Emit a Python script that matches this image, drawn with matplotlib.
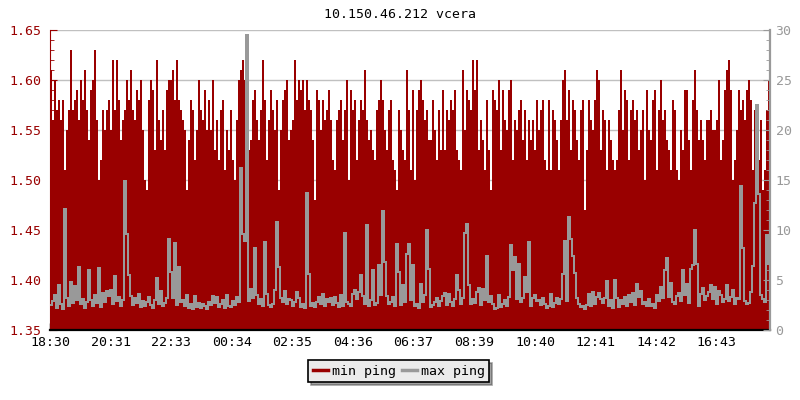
import numpy as np
import matplotlib
matplotlib.use('Agg')
import matplotlib.pyplot as plt
from matplotlib.ticker import MultipleLocator, FormatStrFormatter

# readings, one every 4 minutes from 18:30 (360 samples)
min_ping = [
    1.61, 1.56, 1.60, 1.57, 1.58, 1.56, 1.58, 1.51, 1.55, 1.57, 1.63, 1.57, 1.58, 1.59, 1.56, 1.60, 1.58, 1.61, 1.57, 1.54,
    1.59, 1.60, 1.63, 1.56, 1.50, 1.52, 1.57, 1.55, 1.57, 1.58, 1.55, 1.62, 1.57, 1.62, 1.58, 1.54, 1.56, 1.57, 1.60, 1.58,
    1.61, 1.57, 1.56, 1.59, 1.58, 1.60, 1.55, 1.50, 1.49, 1.58, 1.60, 1.59, 1.53, 1.62, 1.56, 1.54, 1.57, 1.53, 1.59, 1.60,
    1.60, 1.61, 1.58, 1.62, 1.58, 1.57, 1.56, 1.55, 1.49, 1.54, 1.58, 1.57, 1.52, 1.55, 1.60, 1.57, 1.56, 1.59, 1.55, 1.58,
    1.55, 1.60, 1.53, 1.56, 1.52, 1.57, 1.58, 1.51, 1.55, 1.53, 1.57, 1.52, 1.50, 1.56, 1.60, 1.61, 1.62, 1.60, 1.56, 1.53,
    1.54, 1.58, 1.59, 1.56, 1.54, 1.57, 1.62, 1.58, 1.52, 1.56, 1.59, 1.57, 1.55, 1.58, 1.49, 1.55, 1.58, 1.59, 1.60, 1.54,
    1.55, 1.56, 1.62, 1.58, 1.60, 1.59, 1.60, 1.57, 1.60, 1.58, 1.57, 1.54, 1.48, 1.59, 1.58, 1.55, 1.58, 1.56, 1.57, 1.59,
    1.56, 1.52, 1.51, 1.56, 1.57, 1.58, 1.54, 1.57, 1.60, 1.50, 1.59, 1.57, 1.58, 1.52, 1.56, 1.58, 1.57, 1.61, 1.56, 1.54,
    1.55, 1.53, 1.52, 1.57, 1.58, 1.60, 1.58, 1.55, 1.53, 1.57, 1.58, 1.52, 1.51, 1.49, 1.57, 1.55, 1.53, 1.52, 1.61, 1.57,
    1.51, 1.59, 1.50, 1.57, 1.59, 1.60, 1.58, 1.56, 1.57, 1.54, 1.54, 1.58, 1.55, 1.52, 1.57, 1.53, 1.59, 1.53, 1.57, 1.56,
    1.58, 1.57, 1.59, 1.53, 1.52, 1.51, 1.61, 1.55, 1.59, 1.58, 1.57, 1.62, 1.59, 1.62, 1.53, 1.56, 1.54, 1.51, 1.58, 1.53,
    1.49, 1.59, 1.58, 1.57, 1.60, 1.53, 1.59, 1.56, 1.55, 1.59, 1.60, 1.52, 1.56, 1.55, 1.57, 1.58, 1.54, 1.57, 1.52, 1.56,
    1.54, 1.56, 1.53, 1.58, 1.55, 1.57, 1.58, 1.52, 1.51, 1.58, 1.51, 1.57, 1.56, 1.54, 1.51, 1.56, 1.60, 1.61, 1.56, 1.59,
    1.53, 1.58, 1.57, 1.54, 1.52, 1.57, 1.58, 1.47, 1.53, 1.58, 1.56, 1.55, 1.58, 1.61, 1.60, 1.53, 1.57, 1.56, 1.51, 1.56,
    1.54, 1.52, 1.51, 1.52, 1.57, 1.61, 1.55, 1.59, 1.58, 1.52, 1.57, 1.58, 1.56, 1.57, 1.53, 1.55, 1.57, 1.50, 1.59, 1.55,
    1.54, 1.58, 1.59, 1.51, 1.57, 1.60, 1.56, 1.57, 1.54, 1.53, 1.51, 1.58, 1.57, 1.51, 1.50, 1.55, 1.53, 1.59, 1.59, 1.54,
    1.51, 1.58, 1.61, 1.57, 1.54, 1.56, 1.54, 1.52, 1.56, 1.56, 1.57, 1.55, 1.55, 1.56, 1.60, 1.52, 1.54, 1.59, 1.61, 1.62,
    1.59, 1.50, 1.52, 1.55, 1.59, 1.57, 1.58, 1.56, 1.59, 1.60, 1.58, 1.51, 1.57, 1.55, 1.52, 1.56, 1.49, 1.51, 1.57, 1.60,
]

max_ping = [
    2.5, 2.9, 3.5, 2.2, 4.5, 2.6, 2.1, 12.1, 3.2, 2.4, 4.8, 2.7, 4.4, 3.0, 6.3, 2.6, 3.1, 2.2, 2.8, 6.0,
    3.0, 2.4, 3.5, 2.7, 6.2, 2.3, 3.7, 2.8, 3.9, 3.4, 4.0, 2.6, 5.4, 2.9, 3.3, 2.4, 3.0, 14.9, 9.6, 5.5,
    3.4, 2.5, 3.2, 2.7, 3.6, 2.3, 2.9, 2.4, 2.8, 3.3, 2.5, 2.2, 3.0, 5.2, 2.6, 3.9, 2.4, 2.7, 3.2, 9.1,
    5.8, 3.2, 8.7, 2.5, 6.3, 2.8, 3.0, 2.4, 3.5, 2.2, 2.6, 2.1, 3.4, 2.3, 2.7, 2.2, 2.6, 2.4, 2.1, 2.8,
    2.5, 3.4, 2.7, 3.3, 2.3, 2.6, 3.0, 2.2, 3.5, 2.4, 2.3, 2.9, 2.5, 3.3, 2.8, 16.2, 9.6, 8.9, 29.5, 2.9,
    4.1, 3.2, 8.2, 3.5, 2.6, 3.1, 2.4, 8.8, 3.6, 2.5, 2.3, 2.6, 4.0, 10.8, 6.3, 3.2, 2.8, 3.9, 2.6, 3.1,
    3.0, 2.4, 2.8, 3.8, 3.2, 2.3, 2.6, 2.2, 13.7, 5.6, 2.4, 2.7, 2.3, 2.8, 3.3, 2.6, 3.6, 2.4, 3.1, 2.8,
    3.2, 2.5, 3.3, 2.7, 2.3, 3.5, 2.4, 9.7, 2.8, 2.6, 2.4, 3.6, 4.0, 3.1, 3.8, 5.5, 3.4, 2.6, 10.5, 2.4,
    3.0, 6.0, 2.5, 2.7, 6.5, 3.5, 11.9, 6.8, 3.4, 2.6, 2.8, 3.3, 2.4, 8.6, 5.8, 2.5, 4.5, 2.8, 7.6, 8.6,
    3.0, 6.5, 2.4, 2.6, 2.2, 4.6, 2.8, 3.5, 10.0, 6.1, 2.3, 2.5, 2.8, 3.2, 2.4, 2.9, 3.4, 3.7, 2.5, 3.6,
    2.8, 2.4, 3.1, 5.5, 4.0, 2.6, 3.2, 9.7, 10.6, 4.5, 2.6, 3.1, 2.7, 3.8, 4.2, 2.5, 4.1, 3.0, 7.4, 2.8,
    3.4, 2.6, 2.1, 2.2, 3.5, 2.3, 2.6, 3.0, 2.4, 3.3, 8.5, 6.0, 7.3, 3.1, 6.6, 2.8, 3.2, 5.3, 3.8, 8.8,
    2.4, 3.2, 3.5, 2.9, 3.0, 2.5, 3.2, 2.6, 2.2, 2.4, 3.6, 2.3, 2.7, 3.2, 2.6, 3.1, 5.6, 8.9, 2.9, 11.3,
    9.1, 7.4, 5.7, 3.2, 2.6, 2.3, 2.4, 2.1, 2.5, 3.6, 2.4, 3.8, 2.6, 3.3, 3.7, 3.1, 2.7, 3.2, 4.9, 2.4,
    3.0, 2.2, 5.0, 3.2, 2.3, 3.0, 2.6, 3.3, 2.4, 3.5, 2.8, 3.7, 2.5, 4.6, 3.3, 3.9, 2.6, 2.8, 2.4, 3.1,
    2.4, 2.6, 2.2, 3.5, 2.9, 4.3, 3.2, 6.0, 7.2, 3.3, 4.7, 2.8, 2.6, 3.4, 3.7, 2.9, 6.0, 3.5, 4.6, 2.7,
    6.1, 6.5, 10.0, 6.6, 2.4, 3.6, 4.2, 3.0, 3.4, 3.8, 4.5, 3.1, 4.3, 2.6, 3.9, 3.5, 2.8, 3.1, 4.5, 2.9,
    3.3, 4.0, 2.6, 3.2, 3.1, 14.4, 8.2, 2.9, 2.6, 2.7, 3.8, 6.4, 12.7, 22.5, 13.6, 3.5, 3.1, 2.8, 9.5, 6.6,
]

tick_minutes = [0, 121, 243, 364, 485, 606, 727, 849, 970, 1091, 1212, 1333]
tick_labels = ['18:30', '20:31', '22:33', '00:34', '02:35', '04:36',
               '06:37', '08:39', '10:40', '12:41', '14:42', '16:43']

red = '#990000'
gray = '#999999'
plt.rcParams['font.family'] = 'DejaVu Sans Mono'

edges = np.linspace(0, 1440, len(min_ping) + 1)

fig = plt.figure(figsize=(8, 4), dpi=100)
ax = fig.add_axes([50 / 800, 70 / 400, 720 / 800, 300 / 400])
ax.set_axisbelow(True)
ax.stairs(min_ping, edges, fill=True, baseline=1.35, color=red, label='min ping',
          zorder=2, antialiased=False)
ax.set_xlim(0, 1440)
ax.set_ylim(1.35, 1.65)
ax.yaxis.set_major_locator(MultipleLocator(0.05))
ax.yaxis.set_minor_locator(MultipleLocator(0.01))
ax.yaxis.set_major_formatter(FormatStrFormatter('%.2f'))
ax.grid(axis='y', which='major', color='#c0c0c0', linewidth=1, zorder=0)
ax.set_xticks(tick_minutes)
ax.set_xticklabels(tick_labels)
ax.tick_params(axis='x', direction='in', length=5, width=1, colors='black',
               labelsize=9.5, pad=4)
ax.tick_params(axis='y', which='major', direction='in', length=5, color=red,
               labelcolor=red, labelsize=9.5, pad=6)
ax.tick_params(axis='y', which='minor', direction='in', length=3, color=red)
ax.spines['left'].set_color(red)
ax.spines['bottom'].set_linewidth(1.6)
ax.spines['top'].set_visible(False)
ax.spines['right'].set_visible(False)

ax2 = ax.twinx()
ax2.stairs(max_ping, edges, baseline=None, color=gray, linewidth=1.4,
           label='max ping', zorder=3, antialiased=False)
ax2.set_ylim(0, 30)
ax2.yaxis.set_major_locator(MultipleLocator(5))
ax2.yaxis.set_minor_locator(MultipleLocator(1))
ax2.tick_params(axis='y', which='major', direction='in', length=5, color=gray,
                labelcolor=gray, labelsize=9.5, pad=4)
ax2.tick_params(axis='y', which='minor', direction='in', length=3, color=gray)
ax2.spines['right'].set_color(gray)
ax2.spines['right'].set_linewidth(1.6)
for s in ['left', 'top', 'bottom']:
    ax2.spines[s].set_visible(False)

fig.text(0.5, 0.965, '10.150.46.212 vcera', ha='center', va='center', fontsize=9.5)

h1 = plt.Line2D([], [], color=red, linewidth=2.5)
h2 = plt.Line2D([], [], color=gray, linewidth=2.5)
leg = fig.legend([h1, h2], ['min ping', 'max ping'], loc='center', ncol=2,
                 bbox_to_anchor=(0.4985, 0.0725), fancybox=False, shadow=True,
                 frameon=True, edgecolor='black', facecolor='#ebebeb',
                 fontsize=9.5, handlelength=1.1, handletextpad=0.3,
                 columnspacing=0.5, borderpad=0.35)
leg.get_frame().set_linewidth(1.2)

fig.savefig('out.png', dpi=100)
